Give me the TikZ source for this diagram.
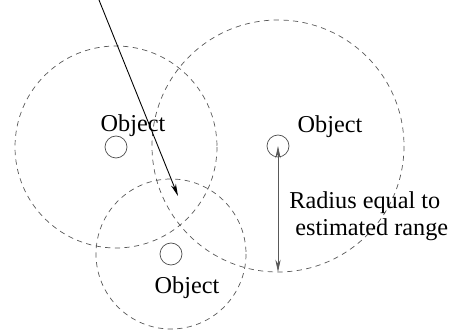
\documentclass[tikz,border=0pt]{standalone}
\usepackage{fontspec}
\setmainfont{Liberation Serif}
\usetikzlibrary{arrows.meta, positioning}

\begin{document}
\begin{tikzpicture}[x=0.02cm, y=-0.02cm, >={Stealth[length=7pt, width=3pt]},
  object/.style={circle, draw=black!70, minimum size=0.44cm, inner sep=0pt, line width=0.4pt},
  rangecircle/.style={draw=black!65, dashed, dash pattern=on 3pt off 2.5pt, line width=0.4pt},
  objtext/.style={font=\fontsize{13.8}{15.5}\selectfont, inner sep=0pt}]

\useasboundingbox (0,0) rectangle (460,334);

% Define nodes
\node[object] (O1) at (116,147) {};
\node[object] (O2) at (278,146) {};
\node[object] (O3) at (171,254) {};

% Estimated range circles
\draw[rangecircle] (O1.center) circle[radius=101];
\draw[rangecircle] (O2.center) circle[radius=126];
\draw[rangecircle] (O3.center) circle[radius=75];

% Labels
\node[objtext] (L1) at (133,126) {Object};
\node[objtext] (L2) at (330,127) {Object};
\node[objtext] (L3) at (187,288) {Object};
\node[objtext, align=left, anchor=west] (R) at (289,216) {Radius equal to\\ \ estimated range};

% Arrows
\coordinate (start) at (99,0);
\coordinate (hit) at (178,196);
\draw[->, line width=0.5pt] (start) -- (hit);

\coordinate (edge) at (278,272);
\draw[<->, black!65, line width=0.4pt] (O2.center) -- (edge);

\end{tikzpicture}
\end{document}
